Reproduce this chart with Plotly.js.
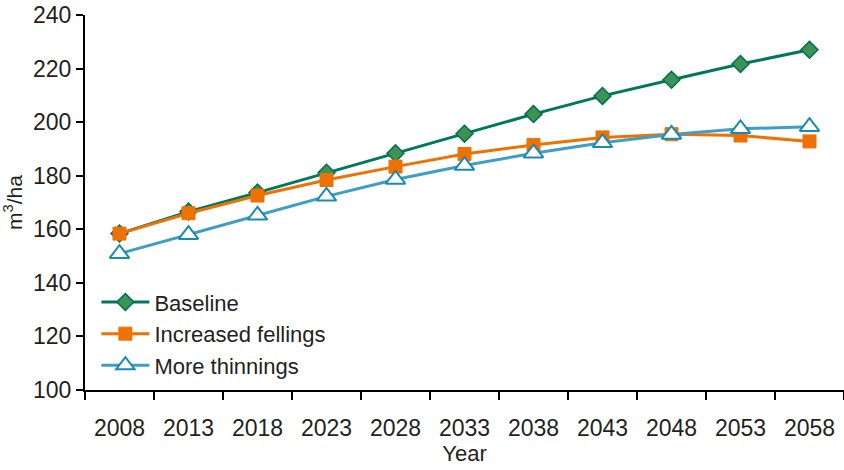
<!DOCTYPE html>
<html>
<head>
<meta charset="utf-8">
<script src="https://cdn.plot.ly/plotly-3.0.1.min.js"></script>
<style>html,body{margin:0;padding:0;background:#fff;}#chart{width:844px;height:470px;}</style>
</head>
<body>
<div id="chart"></div>
<script>
const years = ["2008","2013","2018","2023","2028","2033","2038","2043","2048","2053","2058"];
const baseline = [158.4, 166.6, 173.7, 181.1, 188.4, 195.7, 203.0, 209.8, 215.8, 221.7, 227.0];
const increasedFellings = [158.4, 166.0, 172.6, 178.4, 183.4, 188.1, 191.5, 194.3, 195.5, 195.0, 192.8];
const moreThinnings = [150.9, 158.0, 165.2, 172.3, 178.6, 183.8, 188.4, 192.3, 195.4, 197.5, 198.3];
const seriesNames = ["Baseline", "Increased fellings", "More thinnings"];

const fontFam = "Liberation Sans, Arial, Helvetica, sans-serif";
const txt = "#231f20";

const traces = [
  {x: years, y: baseline, name: seriesNames[0], type: "scatter", mode: "lines+markers",
   line: {color: "#00785a", width: 3},
   marker: {symbol: "diamond", size: 13, color: "#3d9256", line: {color: "#00704f", width: 1.5}}},
  {x: years, y: increasedFellings, name: seriesNames[1], type: "scatter", mode: "lines+markers",
   line: {color: "#ee7203", width: 3},
   marker: {symbol: "square", size: 13, color: "#ee7203", line: {color: "#ee7203", width: 1}}},
  {x: years, y: moreThinnings, name: seriesNames[2], type: "scatter", mode: "lines+markers",
   line: {color: "#3d9fc2", width: 3},
   marker: {symbol: "triangle-up", size: 17, color: "#ffffff", line: {color: "#1a89b3", width: 2}}}
];

const layout = {
  width: 844, height: 470,
  margin: {l: 85, r: 0, t: 15, b: 80},
  paper_bgcolor: "#fff", plot_bgcolor: "#fff",
  font: {family: fontFam, size: 23, color: txt},
  showlegend: true,
  legend: {x: 0.015, y: 0.29, xanchor: "left", yanchor: "top", bgcolor: "rgba(0,0,0,0)",
           font: {family: fontFam, size: 22, color: txt}, tracegroupgap: 0, itemwidth: 48},
  xaxis: {type: "category", range: [-0.5, 10.5], tickson: "boundaries",
          ticks: "outside", ticklen: 8, tickwidth: 2, tickcolor: "#000",
          showline: true, linecolor: "#000", linewidth: 2, showgrid: false, zeroline: false,
          tickfont: {size: 23}, ticklabelstandoff: 16,
          title: {text: "Year", font: {size: 22}, standoff: 6}},
  yaxis: {range: [100, 240], dtick: 20, ticks: "outside", ticklen: 7, tickwidth: 2, tickcolor: "#000",
          showline: true, linecolor: "#000", linewidth: 2, showgrid: false, zeroline: false,
          tickfont: {size: 23},
          title: {text: "m<sup>3</sup>/ha", font: {size: 21}, standoff: 6}}
};

Plotly.newPlot("chart", traces, layout, {displayModeBar: false, staticPlot: true});
</script>
</body>
</html>
